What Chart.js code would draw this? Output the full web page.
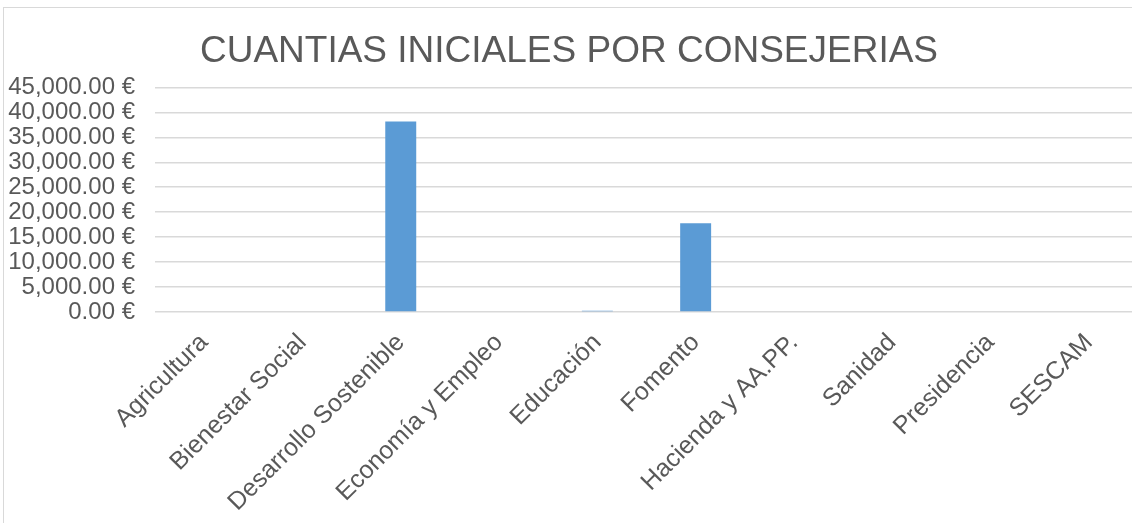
<!DOCTYPE html>
<html>
<head>
<meta charset="utf-8">
<script src="https://cdn.jsdelivr.net/npm/chart.js@4"></script>
<style>
  html, body { margin: 0; padding: 0; background: #fff; overflow: hidden; }
  #wrap { position: relative; width: 1132px; height: 523px; overflow: hidden; }
  #frame { position: absolute; left: 3px; top: 7px; width: 1300px; height: 700px;
           border-left: 1px solid #d9d9d9; border-top: 1px solid #d9d9d9; }
  #myGraph { position: absolute; left: 0; top: 0; }
</style>
</head>
<body>
<div id="wrap">
  <div id="frame"></div>
  <canvas id="myGraph" width="1140" height="523"></canvas>
</div>
<script>
// Consejerías y cuantías iniciales
const categorias = [
  "Agricultura",
  "Bienestar Social",
  "Desarrollo Sostenible",
  "Economía y Empleo",
  "Educación",
  "Fomento",
  "Hacienda y AA.PP.",
  "Sanidad",
  "Presidencia",
  "SESCAM"
];
const cuantias = [0, 0, 38150, 0, 250, 17800, 0, 0, 0, 0];

const titulo = "CUANTIAS INICIALES POR CONSEJERIAS";
const ejeMin = 0;
const ejeMax = 45000;
const ejePaso = 5000;

const gris = "#595959";
const fuente = "'Liberation Sans', Arial, sans-serif";

const ctx = document.getElementById("myGraph").getContext("2d");
const myChart = new Chart(ctx, {
  type: "bar",
  data: {
    labels: categorias,
    datasets: [
      {
        label: "Cuantía",
        data: cuantias,
        backgroundColor: "#5b9bd5",
        borderWidth: 0,
        barPercentage: 0.315,
        categoryPercentage: 1
      }
    ]
  },
  options: {
    responsive: false,
    animation: false,
    layout: { padding: { left: 0, right: 2, top: 0, bottom: 0 } },
    plugins: {
      legend: { display: false },
      tooltip: { enabled: false },
      title: {
        display: true,
        text: titulo,
        color: gris,
        font: { family: fuente, size: 37, weight: "normal", lineHeight: 1.2 },
        padding: { top: 30, bottom: 13 }
      }
    },
    scales: {
      x: {
        grid: { display: false },
        border: { display: false },
        ticks: {
          color: gris,
          font: { family: fuente, size: 25 },
          maxRotation: 45,
          minRotation: 45,
          autoSkip: false,
          padding: 8
        },
        afterFit: (scale) => { scale.height = 211; }
      },
      y: {
        min: ejeMin,
        max: ejeMax,
        grid: { color: "#d9d9d9", lineWidth: 1.5, drawTicks: false },
        border: { display: false },
        ticks: {
          stepSize: ejePaso,
          autoSkip: false,
          color: gris,
          font: { family: fuente, size: 24 },
          padding: 20,
          callback: (v) =>
            v.toLocaleString("en-US", { minimumFractionDigits: 2, maximumFractionDigits: 2 }) + " €"
        },
        afterFit: (scale) => { scale.width = 155; }
      }
    }
  }
});
</script>
</body>
</html>
